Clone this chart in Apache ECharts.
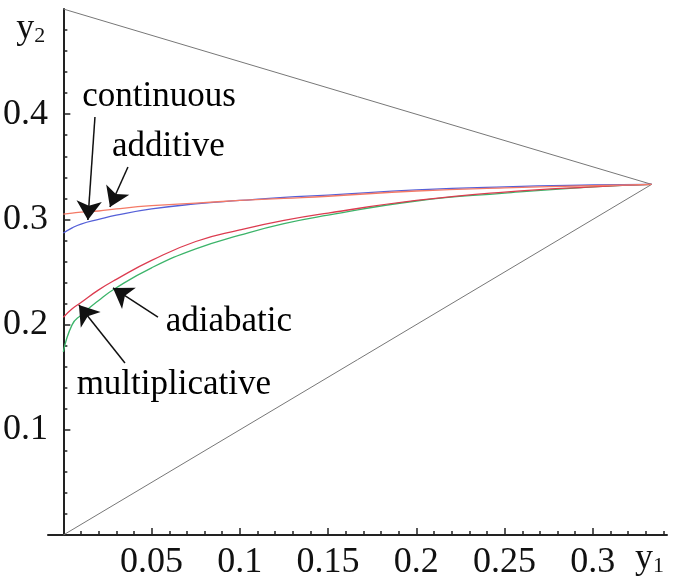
<!DOCTYPE html>
<html><head><meta charset="utf-8">
<script src="https://cdn.jsdelivr.net/npm/echarts@6/dist/echarts.min.js"></script>
<style>html,body{margin:0;padding:0;background:#fff}#c{width:675px;height:582px}</style>
</head><body><div id="c"></div>
<script>
// sample points along y1
const y1Values = [0, 0.005, 0.01, 0.02, 0.03, 0.05, 0.075, 0.1, 0.125, 0.15, 0.2, 0.25, 0.3, 0.3333];
const additive       = [0.305, 0.306, 0.307, 0.308, 0.310, 0.313, 0.3155, 0.318, 0.320, 0.322, 0.327, 0.330, 0.332, 0.3333];
const continuous     = [0.287, 0.292, 0.2956, 0.300, 0.304, 0.310, 0.3147, 0.318, 0.321, 0.323, 0.328, 0.331, 0.3327, 0.3333];
const multiplicative = [0.207, 0.215, 0.221, 0.233, 0.243, 0.261, 0.279, 0.290, 0.299, 0.306, 0.318, 0.326, 0.331, 0.3333];
const adiabatic      = [0.174, 0.200, 0.209, 0.223, 0.235, 0.254, 0.272, 0.285, 0.296, 0.304, 0.3175, 0.325, 0.331, 0.3333];
// triangle boundary
const boundaryX = [0, 0.3333, 0];
const boundaryY = [0.5, 0.3333, 0];
// ticks
const xTickLabels = [0.05, 0.1, 0.15, 0.2, 0.25, 0.3];
const xMinorTicks = [0.01,0.02,0.03,0.04,0.06,0.07,0.08,0.09,0.11,0.12,0.13,0.14,0.16,0.17,0.18,0.19,0.21,0.22,0.23,0.24,0.26,0.27,0.28,0.29,0.31,0.32,0.33,0.34];
const yTickLabels = [0.1, 0.2, 0.3, 0.4];
const yMinorTicks = [0.02,0.04,0.06,0.08,0.12,0.14,0.16,0.18,0.22,0.24,0.26,0.28,0.32,0.34,0.36,0.38,0.42,0.44,0.46,0.48];
// annotations
const annotationNames = ['continuous', 'additive', 'adiabatic', 'multiplicative'];
const annotationPos = [[0.0542, 0.4163], [0.0595, 0.3688], [0.0938, 0.2025], [0.0626, 0.1426]];
const arrowFrom = [[0.0179, 0.3973], [0.0366, 0.3498], [0.0536, 0.2072], [0.0349, 0.1635]];
const arrowTo   = [[0.0139, 0.2994], [0.0264, 0.3118], [0.0281, 0.2348], [0.0088, 0.2186]];

const FONT = '"Liberation Serif", "Times New Roman", serif';
const pair = (xs, ys) => xs.map((x, i) => [x, ys[i]]);
const chart = echarts.init(document.getElementById('c'), null, {renderer: 'canvas'});
const xMin = -0.0087, xMax = 0.342;
function xAxisBase(extra) {
  return Object.assign({
    type: 'value', min: xMin, max: xMax, position: 'bottom',
    splitLine: {show: false},
    axisLine: {onZero: true, lineStyle: {color: '#222', width: 2}},
  }, extra);
}
function yAxisBase(extra) {
  return Object.assign({
    type: 'value', min: 0, max: 0.5, position: 'left',
    splitLine: {show: false},
    axisLine: {onZero: true, lineStyle: {color: '#222', width: 2}},
  }, extra);
}
const option = {
  animation: false,
  backgroundColor: '#fff',
  grid: {left: 48, right: 8, top: 9, bottom: 47, containLabel: false, outerBoundsMode: 'none'},
  xAxis: [
    xAxisBase({
      axisTick: {show: true, inside: true, length: 4, customValues: xMinorTicks, lineStyle: {color: '#222', width: 1.5}},
      axisLabel: {show: true, customValues: xTickLabels, margin: 10, color: '#111', fontFamily: FONT, fontSize: 36},
      name: '{a|y}{b|1}', nameLocation: 'end', nameGap: -32,
      nameTextStyle: {align: 'left', verticalAlign: 'top', padding: [6, 0, 0, 0],
        rich: {a: {fontFamily: FONT, fontSize: 36, color: '#111'}, b: {fontFamily: FONT, fontSize: 22, color: '#111', padding: [14, 0, 0, 0]}}}
    }),
    xAxisBase({
      axisLine: {show: false, onZero: true},
      axisTick: {show: true, inside: true, length: 7, customValues: xTickLabels, lineStyle: {color: '#222', width: 1.5}},
      axisLabel: {show: false}
    })
  ],
  yAxis: [
    yAxisBase({
      axisTick: {show: true, inside: true, length: 4, customValues: yMinorTicks, lineStyle: {color: '#222', width: 1.5}},
      axisLabel: {show: true, customValues: yTickLabels, margin: 0, color: '#111', fontFamily: FONT, fontSize: 36},
      name: '{a|y}{b|2}', nameLocation: 'end', nameGap: -2,
      nameTextStyle: {align: 'right', verticalAlign: 'top', padding: [0, 18, 0, 0],
        rich: {a: {fontFamily: FONT, fontSize: 36, color: '#111'}, b: {fontFamily: FONT, fontSize: 22, color: '#111', padding: [14, 0, 0, 0]}}}
    }),
    yAxisBase({
      axisLine: {show: false, onZero: true},
      axisTick: {show: true, inside: true, length: 7, customValues: yTickLabels, lineStyle: {color: '#222', width: 1.5}},
      axisLabel: {show: false}
    })
  ],
  series: [
    {name: 'boundary', type: 'line', data: pair(boundaryX, boundaryY), symbol: 'none',
      lineStyle: {color: '#777', width: 1}, z: 1},
    {name: 'adiabatic', type: 'line', data: pair(y1Values, adiabatic), symbol: 'none', smooth: 0.5,
      lineStyle: {color: '#3cb46a', width: 1.3}},
    {name: 'multiplicative', type: 'line', data: pair(y1Values, multiplicative), symbol: 'none', smooth: 0.5,
      lineStyle: {color: '#dc3c50', width: 1.3}},
    {name: 'continuous', type: 'line', data: pair(y1Values, continuous), symbol: 'none', smooth: 0.5,
      lineStyle: {color: '#5560d8', width: 1.3}},
    {name: 'additive', type: 'line', data: pair(y1Values, additive), symbol: 'none', smooth: 0.5,
      lineStyle: {color: '#f47a66', width: 1.3}},
    {name: 'arrows', type: 'line', data: [], symbol: 'none',
      markLine: {
        silent: true, symbol: ['none', 'arrow'], symbolSize: 19, animation: false,
        label: {show: false},
        lineStyle: {color: '#111', width: 1.5, type: 'solid'},
        data: arrowFrom.map((f, i) => [{coord: f}, {coord: arrowTo[i]}])
      }},
    {name: 'labels', type: 'scatter', symbolSize: 0, itemStyle: {color: '#000'},
      data: annotationNames.map((n, i) => ({name: n, value: annotationPos[i]})),
      label: {show: true, position: 'inside', formatter: p => p.name, color: '#000', textBorderWidth: 0,
        opacity: 1, fontFamily: FONT, fontSize: 35}}
  ]
};
chart.setOption(option);
</script></body></html>
